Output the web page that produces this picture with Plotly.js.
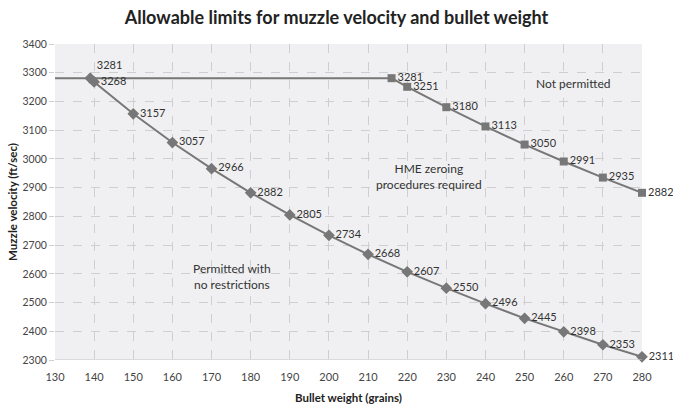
<!DOCTYPE html>
<html>
<head>
<meta charset="utf-8">
<script src="https://cdn.plot.ly/plotly-3.0.1.min.js"></script>
<style>html,body{margin:0;padding:0;background:#fff;}#chart{width:673px;height:404px;}</style>
</head>
<body>
<div id="chart"></div>
<script>
// Data
const permittedWeights = [139, 140, 150, 160, 170, 180, 190, 200, 210, 220, 230, 240, 250, 260, 270, 280];
const permittedVelocities = [3281, 3268, 3157, 3057, 2966, 2882, 2805, 2734, 2668, 2607, 2550, 2496, 2445, 2398, 2353, 2311];
const hmeWeights = [216, 220, 230, 240, 250, 260, 270, 280];
const hmeVelocities = [3281, 3251, 3180, 3113, 3050, 2991, 2935, 2882];
const capWeights = [130, 216];
const capVelocities = [3281, 3281];
const xTicks = [130, 140, 150, 160, 170, 180, 190, 200, 210, 220, 230, 240, 250, 260, 270, 280];
const yTicks = [2300, 2400, 2500, 2600, 2700, 2800, 2900, 3000, 3100, 3200, 3300, 3400];

const lineColor = '#777777';
const font = 'Lato, "Open Sans", "DejaVu Sans", sans-serif';

const traces = [
  {
    x: capWeights, y: capVelocities, mode: 'lines',
    line: {color: lineColor, width: 2}, hoverinfo: 'skip', showlegend: false
  },
  {
    x: permittedWeights, y: permittedVelocities, mode: 'lines+markers+text',
    line: {color: lineColor, width: 2},
    marker: {symbol: 'diamond', size: 9, color: lineColor},
    text: permittedVelocities.map(String),
    textposition: permittedVelocities.map((v, i) => i === 0 ? 'top right' : 'middle right'),
    textfont: {family: font, size: 11, color: '#333'},
    cliponaxis: false, showlegend: false
  },
  {
    x: hmeWeights, y: hmeVelocities, mode: 'lines+markers+text',
    line: {color: lineColor, width: 2},
    marker: {symbol: 'square', size: 8, color: lineColor},
    text: hmeVelocities.map(String),
    textposition: 'middle right',
    textfont: {family: font, size: 11, color: '#333'},
    cliponaxis: false, showlegend: false
  }
];

const layout = {
  width: 673, height: 404,
  margin: {l: 55, r: 31, t: 44, b: 44},
  paper_bgcolor: '#ffffff',
  plot_bgcolor: '#f0f0f2',
  font: {family: font, color: '#333'},
  title: {
    text: '<b>Allowable limits for muzzle velocity and bullet weight</b>',
    font: {family: font, size: 18, color: '#222'},
    x: 0.5, xanchor: 'center', y: 0.955, yanchor: 'middle'
  },
  xaxis: {
    range: [130, 280], tickvals: xTicks, ticktext: xTicks.map(String),
    showgrid: true, gridcolor: '#cfcfd2', griddash: 'dash', gridwidth: 1,
    zeroline: false, showline: false,
    tickfont: {family: font, size: 11, color: '#444'},
    ticks: 'outside', ticklen: 7, tickcolor: 'rgba(0,0,0,0)',
    title: {text: '<b>Bullet weight (grains)</b>', font: {family: font, size: 11.5, color: '#222'}, standoff: 12}
  },
  yaxis: {
    range: [2300, 3400], tickvals: yTicks, ticktext: yTicks.map(String),
    showgrid: true, gridcolor: '#cfcfd2', griddash: 'dash', gridwidth: 1,
    zeroline: false, showline: false,
    tickfont: {family: font, size: 10.5, color: '#444'},
    ticks: 'outside', ticklen: 5, tickcolor: '#cfcfd2',
    title: {text: '<b>Muzzle velocity (ft/sec)</b>', font: {family: font, size: 11.5, color: '#222'}, standoff: 2}
  },
  shapes: [
    {type: 'line', xref: 'paper', yref: 'y', x0: 0, x1: 1, y0: 2300, y1: 2300, line: {color: '#c4c4c8', width: 1}}
  ],
  annotations: [
    {x: 262.4, y: 3264, xref: 'x', yref: 'y', text: 'Not permitted', showarrow: false,
     font: {family: font, size: 12, color: '#333'}},
    {x: 225.5, y: 2940, xref: 'x', yref: 'y', text: 'HME zeroing<br>procedures required', showarrow: false,
     font: {family: font, size: 12, color: '#333'}},
    {x: 175.2, y: 2590, xref: 'x', yref: 'y', text: 'Permitted with<br>no restrictions', showarrow: false,
     font: {family: font, size: 12, color: '#333'}}
  ]
};

Plotly.newPlot('chart', traces, layout, {displayModeBar: false, staticPlot: true});
</script>
</body>
</html>
